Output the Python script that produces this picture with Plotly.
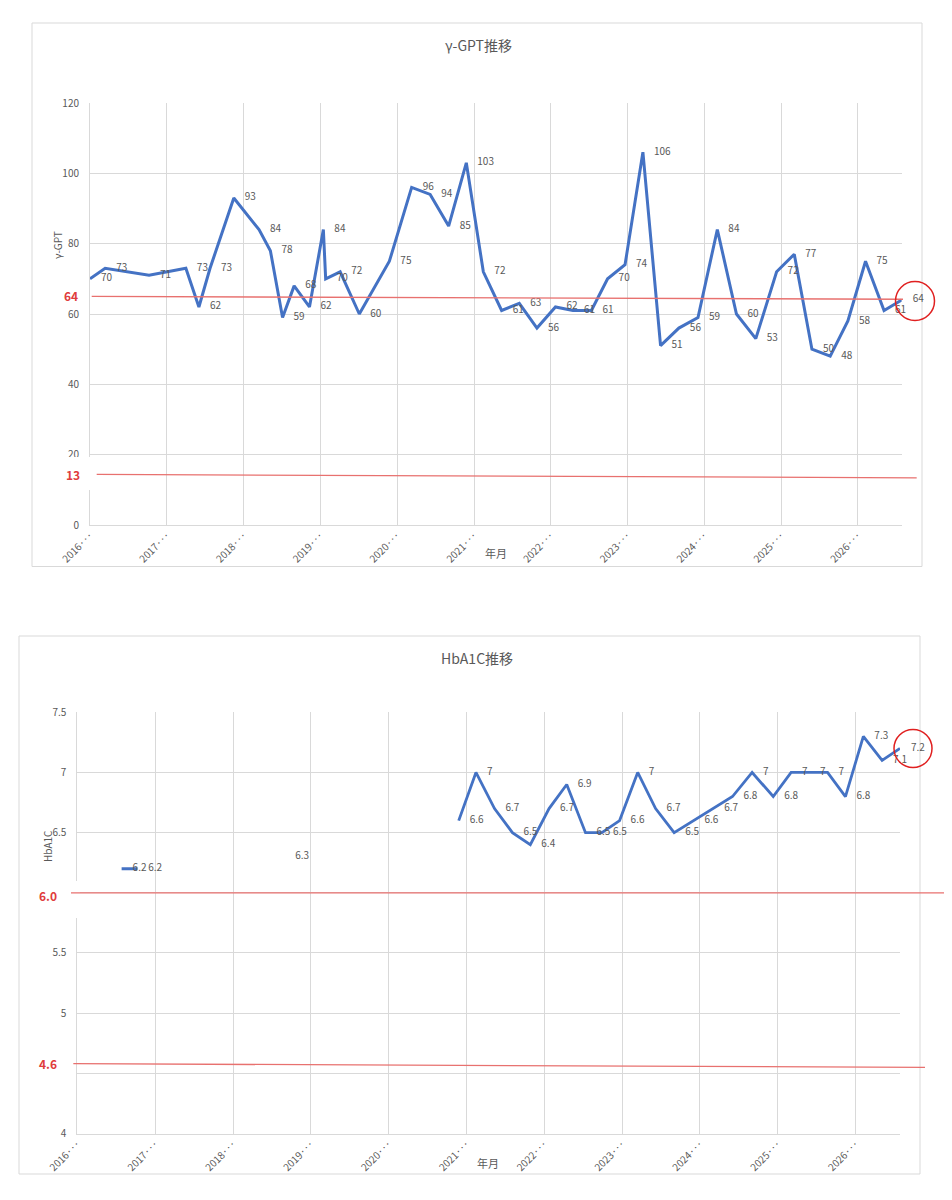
import plotly.graph_objects as go

# 測定日と値 (γ-GPT と HbA1C は同じ日付列を共有、空欄は None)
dates = ["2016-01-01", "2016-03-13", "2016-07-27", "2016-10-08", "2017-04-01",
         "2017-06-02", "2017-07-25", "2017-11-15", "2018-03-15", "2018-05-08",
         "2018-07-05", "2018-08-29", "2018-11-10", "2019-01-15", "2019-01-26",
         "2019-04-05", "2019-07-05", "2019-11-25", "2020-03-10", "2020-06-06",
         "2020-09-02", "2020-11-25", "2021-02-14", "2021-05-12", "2021-08-04",
         "2021-10-27", "2022-01-23", "2022-04-16", "2022-07-13", "2022-09-28",
         "2022-12-20", "2023-03-15", "2023-06-07", "2023-09-02", "2023-12-02",
         "2024-03-03", "2024-06-02", "2024-09-02", "2024-12-10", "2025-03-04",
         "2025-05-27", "2025-08-22", "2025-11-14", "2026-02-06", "2026-05-05",
         "2026-07-28"]
gpt = [70, 73, None, 71, 73, 62, 73, 93, 84, 78, 59, 68, 62, 84, 70, 72, 60, 75,
       96, 94, 85, 103, 72, 61, 63, 56, 62, 61, 61, 70, 74, 106, 51, 56, 59, 84,
       60, 53, 72, 77, 50, 48, 58, 75, 61, 64]
a1c = [None, None, 6.2, 6.2, None, None, None, None, None, None, None, 6.3,
       None, None, None, None, None, None, None, None, None, 6.6, 7.0, 6.7, 6.5,
       6.4, 6.7, 6.9, 6.5, 6.5, 6.6, 7.0, 6.7, 6.5, 6.6, 6.7, 6.8, 7.0, 6.8, 7.0,
       7.0, 7.0, 6.8, 7.3, 7.1, 7.2]

gpt_limits = [64, 13]
a1c_limits = ["6.0", "4.6"]

# HbA1C axis: the 4.5 and 6 labels are hidden under the limit notes
a1c_ticks = [4, 4.5, 5, 5.5, 6, 6.5, 7, 7.5]
a1c_ticklabels = ["4", "", "5", "5.5", "", "6.5", "7", "7.5"]

BLUE = "#4472C4"
GRAY = "#595959"
GRID = "#d9d9d9"
RED_LINE = "#e8716f"
RED_TXT = "#e03c3c"
FONT = "Noto Sans CJK JP"

# the page body has an 8px margin, so the figure is 16px smaller than the window
W, H = 936, 1184


def px(x):
    return (x - 8) / W


def py(y):
    return 1 - (y - 8) / H


def lab(v):
    return "" if v is None else f"{v:g}"


# plot areas (window pixels)
top_l, top_r, top_t, top_b = 90, 901.7, 103, 525
bot_l, bot_r, bot_t, bot_b = 77.3, 900, 712.3, 1133.5
gpt_range = [0, 120]
a1c_range = [4, 7.5]


def gy(v):
    return py(top_b - (v - gpt_range[0]) / (gpt_range[1] - gpt_range[0]) * (top_b - top_t))


def ay(v):
    return py(bot_b - (v - a1c_range[0]) / (a1c_range[1] - a1c_range[0]) * (bot_b - bot_t))


fig = go.Figure()
fig.add_trace(go.Scatter(
    x=dates, y=gpt, text=[lab(v) for v in gpt], mode="lines+markers+text",
    textposition="middle right", connectgaps=True, cliponaxis=False,
    line=dict(color=BLUE, width=3), marker=dict(size=16, color="rgba(0,0,0,0)"),
    textfont=dict(family=FONT, size=10, color=GRAY), xaxis="x", yaxis="y",
))
fig.add_trace(go.Scatter(
    x=dates, y=a1c, text=[lab(v) for v in a1c], mode="lines+markers+text",
    textposition="middle right", connectgaps=False, cliponaxis=False,
    line=dict(color=BLUE, width=2.8), marker=dict(size=16, color="rgba(0,0,0,0)"),
    textfont=dict(family=FONT, size=10, color=GRAY), xaxis="x2", yaxis="y2",
))

common = dict(showgrid=True, gridcolor=GRID, gridwidth=1, showline=True,
              linecolor=GRID, linewidth=1, zeroline=False, ticks="",
              automargin=False, tickfont=dict(family=FONT, size=10, color=GRAY))
xcommon = dict(type="date", range=[dates[0], dates[-1]], dtick="M12",
               tick0="2016-01-01", tickformat="%Y·‥", tickangle=-45, **common)

shapes = [
    dict(type="rect", xref="paper", yref="paper", x0=px(32), x1=px(922),
         y0=py(566.5), y1=py(23), line=dict(color=GRID, width=1), layer="below"),
    dict(type="rect", xref="paper", yref="paper", x0=px(19), x1=px(920),
         y0=py(1174), y1=py(636), line=dict(color=GRID, width=1), layer="below"),
    # white patches behind the hand-written limit labels
    dict(type="rect", xref="paper", yref="paper", x0=px(40), x1=px(95),
         y0=py(490), y1=py(457), fillcolor="white", line=dict(width=0), layer="above"),
    dict(type="rect", xref="paper", yref="paper", x0=px(22), x1=px(80),
         y0=py(918), y1=py(881), fillcolor="white", line=dict(width=0), layer="above"),
    # limit lines
    dict(type="line", xref="paper", yref="paper", x0=px(91.7), x1=px(903),
         y0=gy(gpt_limits[0] + 1), y1=gy(gpt_limits[0] + 0.2),
         line=dict(color=RED_LINE, width=1.3), layer="above"),
    dict(type="line", xref="paper", yref="paper", x0=px(96.7), x1=px(916.7),
         y0=gy(gpt_limits[1] + 1.4), y1=gy(gpt_limits[1] + 0.4),
         line=dict(color=RED_LINE, width=1.3), layer="above"),
    dict(type="line", xref="paper", yref="paper", x0=px(71), x1=px(952),
         y0=ay(float(a1c_limits[0])), y1=ay(float(a1c_limits[0])),
         line=dict(color=RED_LINE, width=1.3), layer="above"),
    dict(type="line", xref="paper", yref="paper", x0=px(73.3), x1=px(925),
         y0=ay(float(a1c_limits[1]) - 0.02), y1=ay(float(a1c_limits[1]) - 0.05),
         line=dict(color=RED_LINE, width=1.3), layer="above"),
    # circles around the latest values
    dict(type="circle", xref="paper", yref="paper", x0=px(895.5), x1=px(934.5),
         y0=py(320.5), y1=py(281.5), line=dict(color="#e02020", width=1.5), layer="above"),
    dict(type="circle", xref="paper", yref="paper", x0=px(894), x1=px(932),
         y0=py(767.5), y1=py(729.5), line=dict(color="#e02020", width=1.5), layer="above"),
]


def note(text, x, y, size=10, color=GRAY, angle=0, bold=False):
    if bold:
        text = "<b>" + text + "</b>"
    return dict(text=text, xref="paper", yref="paper", x=px(x), y=py(y),
                xanchor="center", yanchor="middle", showarrow=False, textangle=angle,
                font=dict(family=FONT, size=size, color=color))


annotations = [
    note("γ-GPT推移", 478, 45, size=14),
    note("HbA1C推移", 477, 658, size=14),
    note("年月", 496, 553, size=11),
    note("年月", 488, 1163, size=11),
    note("γ-GPT", 58, 245, size=10, angle=-90),
    note("HbA1C", 47, 846, size=10, angle=-90),
    note(str(gpt_limits[0]), 71, 296, size=12, color=RED_TXT, bold=True),
    note(str(gpt_limits[1]), 73, 474, size=12, color=RED_TXT, bold=True),
    note(a1c_limits[0], 48, 895, size=12, color=RED_TXT, bold=True),
    note(a1c_limits[1], 48, 1063, size=12, color=RED_TXT, bold=True),
]

fig.update_layout(
    width=W, height=H, margin=dict(l=0, r=0, t=0, b=0, autoexpand=False),
    paper_bgcolor="white", plot_bgcolor="white", showlegend=False,
    font=dict(family=FONT, color=GRAY),
    xaxis=dict(domain=[px(top_l), px(top_r)], anchor="y", **xcommon),
    yaxis=dict(domain=[py(top_b), py(top_t)], anchor="x", range=gpt_range,
               dtick=20, ticklabelstandoff=8, **common),
    xaxis2=dict(domain=[px(bot_l), px(bot_r)], anchor="y2", **xcommon),
    yaxis2=dict(domain=[py(bot_b), py(bot_t)], anchor="x2", range=a1c_range,
                tickmode="array", tickvals=a1c_ticks, ticktext=a1c_ticklabels,
                ticklabelstandoff=8, **common),
    shapes=shapes, annotations=annotations,
)

fig.write_html("out.html")
